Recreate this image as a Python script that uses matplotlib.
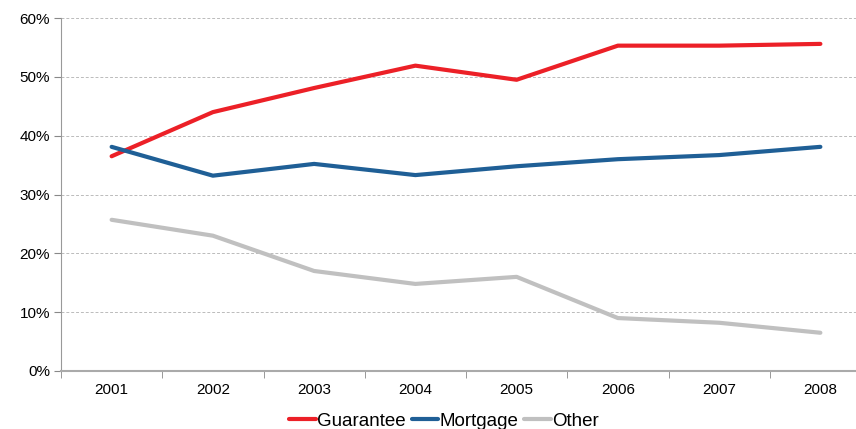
import matplotlib
matplotlib.use("Agg")
import matplotlib.pyplot as plt
from matplotlib.ticker import FuncFormatter, FixedLocator

plt.rcParams["font.family"] = ["Liberation Sans", "DejaVu Sans"]

years = ["2001", "2002", "2003", "2004", "2005", "2006", "2007", "2008"]
guarantee = [36.5, 44.0, 48.1, 51.9, 49.5, 55.3, 55.3, 55.6]
mortgage = [38.1, 33.2, 35.2, 33.3, 34.8, 36.0, 36.7, 38.1]
other = [25.7, 23.0, 17.0, 14.8, 16.0, 9.0, 8.2, 6.5]

fig = plt.figure(figsize=(8.56, 4.29), dpi=100)
ax = fig.add_axes([61 / 856, 58 / 429, 810 / 856, 353 / 429])

x = list(range(len(years)))
ax.plot(x, guarantee, color="#ec2027", lw=3, label="Guarantee", solid_capstyle="round")
ax.plot(x, mortgage, color="#1f5f96", lw=3, label="Mortgage", solid_capstyle="round")
ax.plot(x, other, color="#c0c0c0", lw=3, label="Other", solid_capstyle="round")

ax.set_xlim(-0.5, len(years) - 0.5)
ax.set_ylim(0, 60)
ax.set_yticks(range(0, 61, 10))
ax.yaxis.set_major_formatter(FuncFormatter(lambda v, p: f"{int(v)}%"))
ax.set_xticks(x)
ax.set_xticklabels(years)
ax.xaxis.set_minor_locator(FixedLocator([i - 0.5 for i in range(len(years) + 1)]))
ax.tick_params(axis="x", which="major", length=0, pad=9, labelsize=11)
ax.tick_params(axis="x", which="minor", length=5, color="#888888", direction="out")
ax.tick_params(axis="y", length=5, color="#888888", labelsize=11, pad=3)

ax.grid(axis="y", color="#bbbbbb", linestyle=(0, (3, 2)), lw=0.7)
ax.set_axisbelow(True)
for s in ["top", "right"]:
    ax.spines[s].set_visible(False)
ax.spines["left"].set_color("#999999")
ax.spines["bottom"].set_color("#aaaaaa")
ax.spines["bottom"].set_linewidth(1.5)

fig.legend(loc="center", bbox_to_anchor=(0.519, 0.018), ncol=3, frameon=False,
           fontsize=13.5, handlelength=1.4, handletextpad=0.1, columnspacing=0.3)

fig.savefig("out.png", dpi=100)
